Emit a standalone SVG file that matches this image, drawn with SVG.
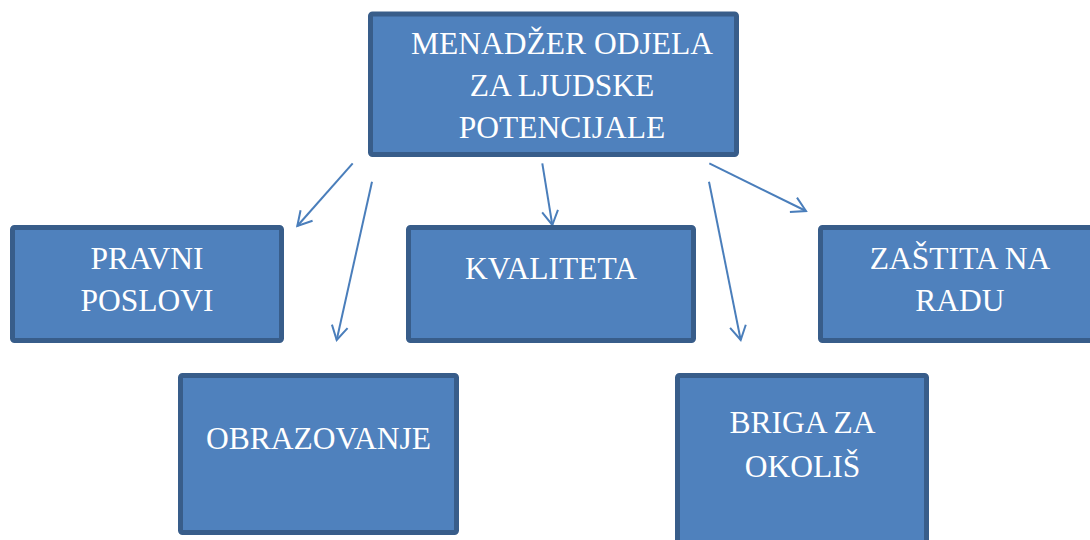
<svg xmlns="http://www.w3.org/2000/svg" width="1090" height="540" viewBox="0 0 1090 540">
<defs>
<style>
.box{fill:#4F81BD;stroke:#385D8A;stroke-width:5;}
.t{font-family:'Liberation Serif','DejaVu Serif',serif;font-size:31.5px;fill:#FFFFFF;text-anchor:middle;}
.c{stroke:#4A7EBB;stroke-width:2;fill:none;}
</style>
<marker id="arr" viewBox="0 0 20 20" refX="18" refY="10" markerWidth="20" markerHeight="20" markerUnits="userSpaceOnUse" orient="auto">
<path d="M4,2 L18,10 L4,18" fill="none" stroke="#4A7EBB" stroke-width="2"/>
</marker>
</defs>
<rect width="1090" height="540" fill="#FFFFFF"/>
<g id="connectors">
<line class="c" x1="352.7" y1="163.3" x2="297.3" y2="226" marker-end="url(#arr)"/>
<line class="c" x1="372" y1="181.7" x2="336.7" y2="340" marker-end="url(#arr)"/>
<line class="c" x1="542.3" y1="163.3" x2="552.3" y2="225" marker-end="url(#arr)"/>
<line class="c" x1="709" y1="181.7" x2="740.7" y2="340" marker-end="url(#arr)"/>
<line class="c" x1="709.3" y1="163.3" x2="806" y2="211" marker-end="url(#arr)"/>
</g>
<g id="menadzer">
<rect class="box" x="370.5" y="14" width="366" height="140.5" rx="2"/>
<text class="t" x="562" y="53.5">MENADŽER ODJELA</text>
<text class="t" x="562" y="95.5">ZA LJUDSKE</text>
<text class="t" x="562" y="138">POTENCIJALE</text>
</g>
<g id="pravni">
<rect class="box" x="12.5" y="227.5" width="269" height="113" rx="2"/>
<text class="t" x="147" y="269.3">PRAVNI</text>
<text class="t" x="147" y="310.7">POSLOVI</text>
</g>
<g id="kvaliteta">
<rect class="box" x="408.5" y="227.5" width="285" height="113" rx="2"/>
<text class="t" x="551" y="279">KVALITETA</text>
</g>
<g id="zastita">
<rect class="box" x="820.5" y="227.5" width="280" height="113" rx="2"/>
<text class="t" x="960" y="269.3">ZAŠTITA NA</text>
<text class="t" x="960" y="310.7">RADU</text>
</g>
<g id="obrazovanje">
<rect class="box" x="180.5" y="375.5" width="276" height="157" rx="2"/>
<text class="t" x="318.5" y="449.3">OBRAZOVANJE</text>
</g>
<g id="briga">
<rect class="box" x="677.5" y="375.5" width="249" height="180" rx="2"/>
<text class="t" x="802.5" y="433.3">BRIGA ZA</text>
<text class="t" x="802.5" y="476.7">OKOLIŠ</text>
</g>
</svg>
